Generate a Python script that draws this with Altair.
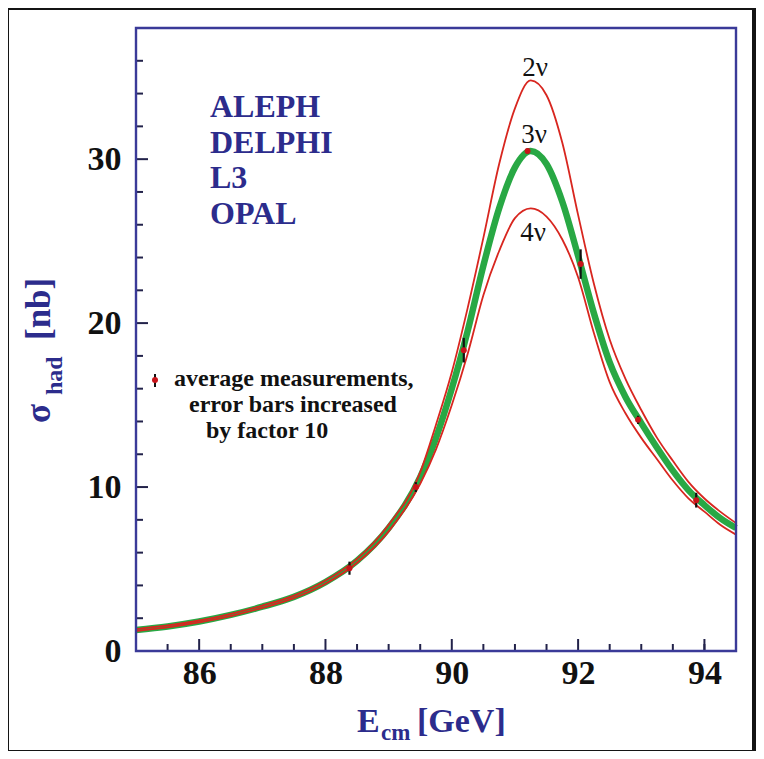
import altair as alt
import pandas as pd

# ---------------- data ----------------
energy = [85.0, 85.5, 86.0, 86.5, 87.0, 87.5, 88.0, 88.5, 89.0, 89.5, 89.75, 90.0,
          90.25, 90.5, 90.75, 91.0, 91.25, 91.5, 91.75, 92.0, 92.25, 92.5, 92.75,
          93.0, 93.25, 93.5, 93.75, 94.0, 94.25, 94.5]
sigma_2nu = [1.34, 1.56, 1.86, 2.27, 2.77, 3.38, 4.3, 5.62, 7.7, 10.9, 13.8, 17.0,
             20.9, 25.2, 29.7, 33.1, 34.8, 33.9, 31.0, 26.6, 22.4, 19.0, 16.6,
             14.7, 13.0, 11.6, 10.3, 9.3, 8.5, 7.8]
sigma_3nu = [1.28, 1.5, 1.8, 2.2, 2.7, 3.3, 4.2, 5.5, 7.5, 10.6, 13.0, 16.0,
             19.5, 23.5, 27.0, 29.5, 30.5, 29.7, 27.4, 24.1, 20.6, 17.6, 15.5,
             13.9, 12.4, 11.0, 9.8, 8.9, 8.1, 7.5]
sigma_4nu = [1.22, 1.44, 1.74, 2.13, 2.63, 3.22, 4.1, 5.38, 7.3, 10.2, 12.3, 15.0,
             18.1, 21.7, 24.4, 26.4, 27.0, 26.5, 25.1, 22.8, 19.4, 16.4, 14.5,
             13.0, 11.7, 10.4, 9.3, 8.5, 7.7, 7.1]

meas_E = [88.38, 89.43, 90.19, 91.2, 92.04, 92.95, 93.87]
meas_sigma = [5.05, 10.0, 18.35, 30.5, 23.6, 14.1, 9.2]
meas_err = [0.4, 0.3, 0.75, 0.15, 0.9, 0.25, 0.45]

x_ticks = [86, 88, 90, 92, 94]
x_minor = [85.5, 86.5, 87, 87.5, 88.5, 89, 89.5, 90.5, 91, 91.5, 92.5, 93, 93.5, 94]
y_ticks = [0, 10, 20, 30]
y_major = [10, 20, 30]
y_minor = [2, 4, 6, 8, 12, 14, 16, 18, 22, 24, 26, 28, 32, 34, 36]

experiments = ["ALEPH", "DELPHI", "L3", "OPAL"]
legend_lines = ["average measurements,", "error bars increased", "by factor 10"]
model_names = ["2ν", "3ν", "4ν"]

# ---------------- styling ----------------
W, H = 600, 623
FONT = "Liberation Serif"
NAVY = "#2c2c8c"
FRAME = "#3a3a98"
TICK = "#22224a"
RED = "#d8261f"
GREEN = "#28a844"

xs = alt.Scale(domain=[85, 94.5], nice=False, zero=False)
ys = alt.Scale(domain=[0, 38], nice=False, zero=False)

x_axis = alt.Axis(values=x_ticks, ticks=False, domain=False, grid=False, title=None,
                  labelFont=FONT, labelFontWeight="bold", labelFontSize=34,
                  labelColor="#111111", labelPadding=5, labelFlush=False,
                  labelOverlap=False, format="d", zindex=2)
y_axis = alt.Axis(values=y_ticks, ticks=False, domain=False, grid=False, title=None,
                  labelFont=FONT, labelFontWeight="bold", labelFontSize=34,
                  labelColor="#111111", labelPadding=15, labelFlush=False,
                  labelOverlap=False, format="d", zindex=2)
X = alt.X("E:Q", scale=xs, axis=x_axis)
Y = alt.Y("sigma:Q", scale=ys, axis=y_axis)

n = len(energy)
curves = pd.DataFrame({
    "E": energy * 3,
    "sigma": sigma_2nu + sigma_3nu + sigma_4nu,
    "model": [model_names[0]] * n + [model_names[1]] * n + [model_names[2]] * n,
})
meas = pd.DataFrame({"E": meas_E, "sigma": meas_sigma, "err": meas_err})
one = pd.DataFrame({"k": [0]})

bg = alt.Chart(one).mark_rect(fill="white").encode(
    x=alt.value(-127), x2=alt.value(616), y=alt.value(-18), y2=alt.value(722))

green = alt.Chart(curves).transform_filter(alt.datum.model == "3ν").mark_line(
    color=GREEN, strokeWidth=6.5, interpolate="monotone").encode(x=X, y=Y)
red = alt.Chart(curves).transform_filter(alt.datum.model != "3ν").mark_line(
    color=RED, strokeWidth=1.8, interpolate="monotone").encode(x=X, y=Y, detail="model:N")

xt_major = alt.Chart(pd.DataFrame({"E": x_ticks})).mark_rule(color=TICK, strokeWidth=2).encode(
    x=X, y=alt.value(H), y2=alt.value(H - 12))
xt_minor = alt.Chart(pd.DataFrame({"E": x_minor})).mark_rule(color=TICK, strokeWidth=2).encode(
    x=X, y=alt.value(H), y2=alt.value(H - 7))
yt_major = alt.Chart(pd.DataFrame({"sigma": y_major})).mark_rule(color=TICK, strokeWidth=2).encode(
    y=Y, x=alt.value(0), x2=alt.value(12))
yt_minor = alt.Chart(pd.DataFrame({"sigma": y_minor})).mark_rule(color=TICK, strokeWidth=2).encode(
    y=Y, x=alt.value(0), x2=alt.value(7))

frame = alt.Chart(one).mark_rect(fill="transparent", stroke=FRAME, strokeWidth=2.4).encode(
    x=alt.value(0), x2=alt.value(W), y=alt.value(0), y2=alt.value(H))

errbars = alt.Chart(meas).transform_calculate(
    lo="datum.sigma - datum.err", hi="datum.sigma + datum.err"
).mark_rule(color="#111111", strokeWidth=2.2).encode(
    x=X, y=alt.Y("lo:Q", scale=ys, axis=y_axis), y2="hi:Q")
dots = alt.Chart(meas).mark_circle(color="#c8141a", size=36, opacity=1).encode(x=X, y=Y)


def txt(text, x, y, size, color="#111111", weight="bold", align="left",
        baseline="alphabetic", angle=0, line_height=None):
    kw = dict(text=text, font=FONT, fontSize=size, fontWeight=weight, color=color,
              align=align, baseline=baseline)
    if angle:
        kw["angle"] = angle
    if line_height:
        kw["lineHeight"] = line_height
    return alt.Chart(one).mark_text(**kw).encode(x=alt.value(x), y=alt.value(y))


texts = [
    txt(experiments, 74, 89, 32, color=NAVY, line_height=35.5),
    # legend
    alt.Chart(one).mark_rule(color="#111111", strokeWidth=2).encode(
        x=alt.value(19), y=alt.value(346), y2=alt.value(359)),
    alt.Chart(one).mark_circle(color="#c8141a", size=36, opacity=1).encode(
        x=alt.value(19), y=alt.value(352)),
    txt(legend_lines[0], 38, 358, 24),
    txt(legend_lines[1], 53, 384, 24),
    txt(legend_lines[2], 70, 410, 24),
    # model labels
    txt(model_names[0], 399, 40, 27, weight="normal", align="center", baseline="middle"),
    txt(model_names[1], 398, 107, 27, weight="normal", align="center", baseline="middle"),
    txt(model_names[2], 397, 205, 27, weight="normal", align="center", baseline="middle"),
    # x title
    txt("E", 221, 704, 34, color=NAVY),
    txt("cm", 245, 712, 23, color=NAVY),
    txt("[GeV]", 281, 704, 34, color=NAVY),
    # y title (rotated)
    txt("σ", -86, 395, 35, color=NAVY, angle=270),
    txt("had", -74, 367, 24, color=NAVY, angle=270),
    txt("[nb]", -86, 312, 35, color=NAVY, angle=270),
]

chart = alt.layer(
    bg, green, red, xt_major, xt_minor, yt_major, yt_minor, frame, errbars, dots, *texts
).properties(
    width=W, height=H,
    padding={"left": 128, "top": 20, "right": 20, "bottom": 100},
    autosize="none",
).configure(background="#141414").configure_view(stroke=None)

chart.save("out.html", embed_options={"renderer": "svg", "actions": False})
